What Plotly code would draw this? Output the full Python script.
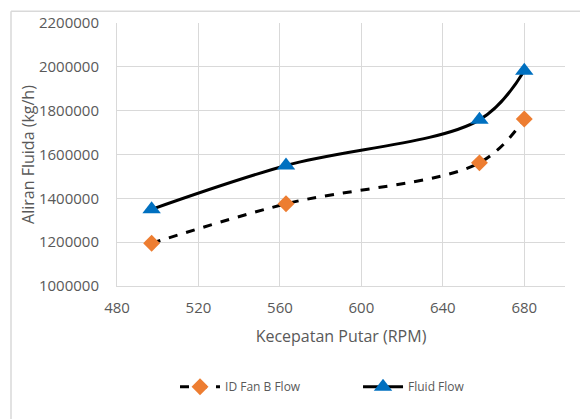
import plotly.graph_objects as go

rpm = [497, 563, 658, 680]
id_fan_b_flow = [1195000, 1375000, 1562000, 1762000]
fluid_flow = [1350000, 1550000, 1758000, 1982000]
x_ticks = [480, 520, 560, 600, 640, 680]
y_ticks = [1000000, 1200000, 1400000, 1600000, 1800000, 2000000, 2200000]

FONT = "Open Sans"
GRAY = "#595959"
GRID = "#d9d9d9"

fig = go.Figure()
fig.add_trace(go.Scatter(
    x=rpm, y=id_fan_b_flow, name="ID Fan B Flow", mode="lines+markers",
    line=dict(color="black", width=3, dash="dash", shape="spline", smoothing=1),
    marker=dict(symbol="diamond", size=13, color="#ED7D31"),
))
fig.add_trace(go.Scatter(
    x=rpm, y=fluid_flow, name="Fluid Flow", mode="lines+markers",
    line=dict(color="black", width=3, shape="spline", smoothing=1),
    marker=dict(symbol="triangle-up", size=16, color="#0070C0"),
))

fig.update_layout(
    width=580, height=419,
    margin=dict(l=117, r=15, t=19, b=133),
    paper_bgcolor="white", plot_bgcolor="white",
    font=dict(family=FONT, color=GRAY),
    showlegend=True,
    legend=dict(orientation="h", x=0.538, xanchor="center", y=-0.383, yanchor="middle",
                font=dict(size=12, color=GRAY), itemwidth=40, entrywidth=128,
                entrywidthmode="pixels"),
    shapes=[
        dict(type="line", xref="paper", yref="paper", x0=-0.2366, x1=-0.2366, y0=1.045, y1=-0.6,
             line=dict(color=GRID, width=1.5)),
        dict(type="line", xref="paper", yref="paper", x0=-0.2366, x1=1.1, y0=1.045, y1=1.045,
             line=dict(color=GRID, width=1.5)),
    ],
)
fig.update_xaxes(
    range=[480, 700], tickvals=x_ticks, showgrid=True, gridcolor=GRID, gridwidth=1,
    showline=True, linecolor=GRID, zeroline=False, ticks="",
    ticklabelstandoff=8,
    tickfont=dict(size=15, color=GRAY),
    title=dict(text="Kecepatan Putar (RPM)", font=dict(size=16, color=GRAY), standoff=14),
)
fig.update_yaxes(
    range=[1000000, 2200000], tickvals=y_ticks, tickformat="d", showgrid=True,
    gridcolor=GRID, gridwidth=1, showline=True, linecolor=GRID, zeroline=False, ticks="",
    ticklabelstandoff=14,
    tickfont=dict(size=15, color=GRAY),
    title=dict(text="Aliran Fluida (kg/h)", font=dict(size=16, color=GRAY), standoff=0),
)

fig.write_html("out.html")
